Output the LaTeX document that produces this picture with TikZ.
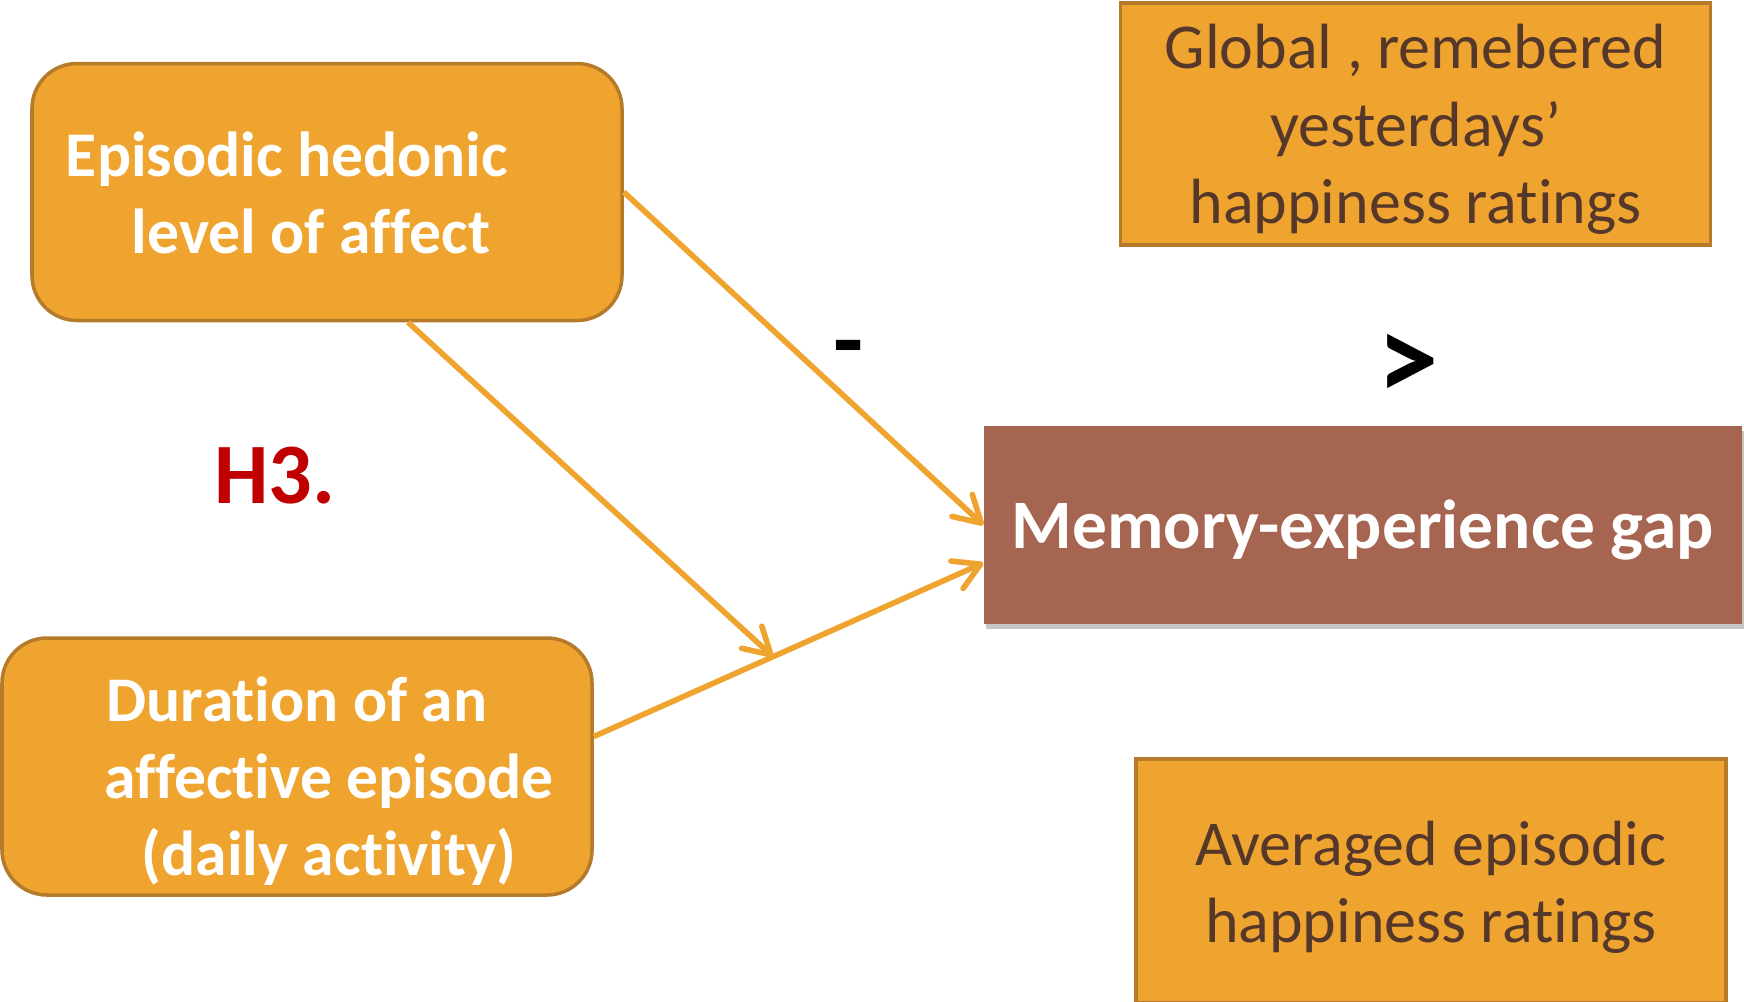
\documentclass[tikz,border=0pt]{standalone}
\usepackage{fontspec}
\setmainfont{Carlito}[Ligatures=NoCommon]
\usetikzlibrary{arrows.meta,shadows}

\definecolor{boxfill}{HTML}{F0A430}
\definecolor{boxline}{HTML}{B57A2A}
\definecolor{gapfill}{HTML}{A56550}
\definecolor{brownfont}{HTML}{55382A}
\definecolor{hypred}{HTML}{C00000}

% stacked lines, lowered a little inside the box
\newcommand{\boxtext}[2][0pt]{\raisebox{#1}[\height][\depth]{\begin{tabular}{@{}c@{}}#2\end{tabular}}}

\begin{document}
\begin{tikzpicture}[
    factor/.style={draw=boxline, line width=1pt, fill=boxfill, rounded corners=0.45cm,
      text=white, font=\fontsize{18.1}{22}\selectfont\bfseries,
      minimum width=5.9cm, minimum height=2.57cm, inner sep=0pt},
    rating/.style={draw=boxline, line width=1pt, fill=boxfill,
      text=brownfont, font=\fontsize{18.2}{22}\selectfont,
      minimum width=5.9cm, minimum height=2.42cm, inner sep=0pt},
    outcome/.style={fill=gapfill, text=white, font=\fontsize{19.75}{24}\selectfont\bfseries,
      minimum width=7.58cm, minimum height=1.98cm, inner sep=0pt,
      drop shadow={shadow xshift=0.02cm, shadow yshift=-0.05cm, opacity=0.45}},
    link/.style={draw=boxfill, line width=1.6pt,
      -{Straight Barb[length=0.26cm, width=0.3cm, line cap=round, line join=round]}}
  ]
  \useasboundingbox (0,0) rectangle (17.44,-10.01);
  % Define nodes
  \node[factor]  (hedonic)  at (3.27,-1.92)  {\boxtext[-0.078cm]{Episodic hedonic\hspace*{0.8cm}\\ level of affect\hspace*{0.32cm}}};
  \node[factor]  (duration) at (2.97,-7.665) {\boxtext[-0.165cm]{Duration of an\\ \hspace*{0.64cm}affective episode\\ \hspace*{0.64cm}(daily activity)}};
  \node[rating]  (global)   at (14.155,-1.24) {\boxtext[-0.067cm]{Global , remebered\\ yesterdays’\\ happiness ratings}};
  \node[rating, minimum height=2.44cm] (averaged) at (14.31,-8.81) {\boxtext[-0.078cm]{Averaged episodic\\ happiness ratings}};
  \node[outcome] (gap) at (13.63,-5.25) {\boxtext[-0.067cm]{Memory-experience gap}};
  \node[text=hypred, font=\fontsize{24.5}{30}\selectfont\bfseries] (hyp) at (2.75,-4.76) {H3.};
  \node[font=\fontsize{28}{32}\selectfont\bfseries] (minus) at (8.49,-3.57) {-};
  \node[font=\fontsize{35}{40}\selectfont\bfseries] (greater) at (14.085,-3.67) {>};
  % Connect nodes
  \draw[link] (hedonic.east) -- (gap.west);
  \draw[link] ([yshift=0.3cm]duration.east) -- coordinate[pos=0.46] (meet) ([yshift=-0.38cm]gap.west);
  \draw[link] ([xshift=0.81cm]hedonic.south) -- (meet);
\end{tikzpicture}
\end{document}
